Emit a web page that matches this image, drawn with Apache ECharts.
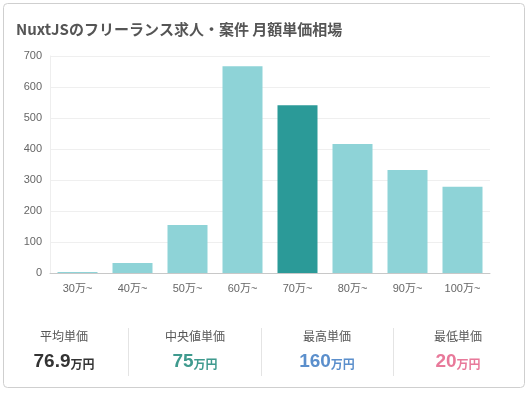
<!DOCTYPE html>
<html><head><meta charset="utf-8">
<script src="https://cdn.jsdelivr.net/npm/echarts@6/dist/echarts.min.js"></script>
<style>html,body{margin:0;padding:0;background:#fff;}#c{width:529px;height:393px;}</style>
</head><body><div id="c"></div>
<script>
const categories = ['30万~','40万~','50万~','60万~','70万~','80万~','90万~','100万~'];
const counts = [3, 32, 155, 667, 541, 416, 332, 278];
const highlightIndex = 4;
const yTicks = { min: 0, max: 700, interval: 100 };
const statLabels = ['平均単価','中央値単価','最高単価','最低単価'];
const statValues = ['76.9','75','160','20'];
const statUnit = '万円';
const statColors = ['#333333','#3f9a8e','#5b8fcc','#e8799a'];
const titleText = 'NuxtJSのフリーランス求人・案件 月額単価相場';

const FONT = '"Noto Sans CJK JP", "Noto Sans", sans-serif';
const NUMFONT = '"Liberation Sans", Arial, "Noto Sans CJK JP", sans-serif';
const chart = echarts.init(document.getElementById('c'));

const colCenters = [64, 195, 327, 458];
const graphics = [
  { type: 'rect', shape: { x: 3.5, y: 3.5, width: 521, height: 384, r: 4 },
    style: { fill: '#fff', stroke: '#cfcfcf', lineWidth: 1 }, z: -10, silent: true }
];
[128, 261, 393].forEach(x => graphics.push({
  type: 'line', shape: { x1: x + 0.5, y1: 328, x2: x + 0.5, y2: 376 },
  style: { stroke: '#e4e4e4', lineWidth: 1 }, silent: true
}));
statLabels.forEach((lab, i) => {
  graphics.push({ type: 'text', x: colCenters[i], y: 336,
    style: { text: lab, fill: '#555', font: '12px ' + FONT, textAlign: 'center', textVerticalAlign: 'middle' } });
  graphics.push({ type: 'text', x: colCenters[i], y: 362,
    style: { text: '{v|' + statValues[i] + '}{u|' + statUnit + '}', align: 'center', verticalAlign: 'middle',
      rich: {
        v: { fontSize: 19, fontWeight: 'bold', fill: statColors[i], fontFamily: NUMFONT, verticalAlign: 'bottom' },
        u: { fontSize: 12, fontWeight: 'bold', fill: statColors[i], fontFamily: FONT, verticalAlign: 'bottom', padding: [0,0,1,0] }
      } } });
});

chart.setOption({
  animation: false,
  textStyle: { fontFamily: FONT },
  title: { text: titleText, left: 11, top: 17,
    textStyle: { fontSize: 15, fontWeight: 'bold', color: '#555', fontFamily: FONT } },
  grid: { left: 50, right: 39, top: 56, bottom: 120, containLabel: false },
  xAxis: { type: 'category', data: categories,
    axisLine: { lineStyle: { color: '#c8c8c8' } }, axisTick: { show: false },
    axisLabel: { color: '#666', fontSize: 11, margin: 10, fontFamily: NUMFONT } },
  yAxis: { type: 'value', min: yTicks.min, max: yTicks.max, interval: yTicks.interval,
    axisLine: { show: true, lineStyle: { color: '#eeeeee' } }, axisTick: { show: false },
    splitLine: { lineStyle: { color: '#efefef' } },
    axisLabel: { color: '#666', fontSize: 11, margin: 8, fontFamily: NUMFONT } },
  series: [{ type: 'bar', barWidth: 40,
    data: counts.map((v, i) => ({ value: v, itemStyle: { color: i === highlightIndex ? '#2b9a98' : '#8ed3d7' } })) }],
  graphic: graphics
});
</script></body></html>
